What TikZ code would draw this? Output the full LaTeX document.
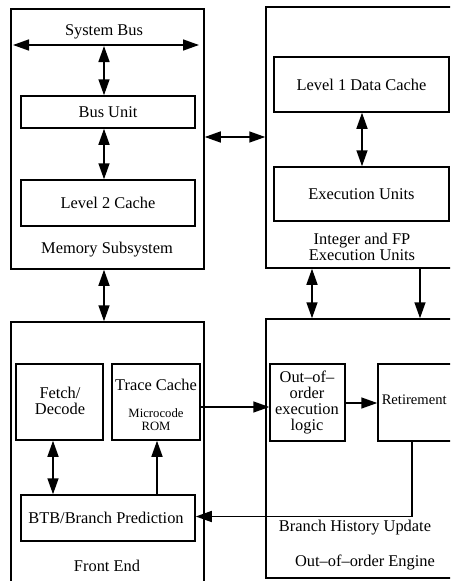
\documentclass[tikz,border=0pt]{standalone}
\usepackage{fontspec}
\setmainfont{Liberation Serif}
\usetikzlibrary{arrows.meta}
\begin{document}
\begin{tikzpicture}[x=1pt,y=-1pt,line width=1.5pt,
  >={Triangle[length=16pt,width=11pt]},
  box/.style={draw,rectangle,inner sep=0pt,line width=1.5pt},
  lbl/.style={inner sep=0pt,align=center,font=\fontsize{16.4}{16.5}\selectfont},
  small/.style={inner sep=0pt,align=center,font=\fontsize{12.7}{13.5}\selectfont},
  mid/.style={inner sep=0pt,align=left,font=\fontsize{14.6}{15}\selectfont}]
\useasboundingbox (0,0) rectangle (450,581);
\clip (0,0) rectangle (450,581);
% outer blocks
\node[box,minimum width=193pt,minimum height=260pt] (mem) at (107.5,139) {};
\node[box,minimum width=204pt,minimum height=261pt] (int) at (368,137.5) {};
\node[box,minimum width=193pt,minimum height=280pt] (fe) at (107.5,462) {};
\node[box,minimum width=204pt,minimum height=259pt] (ooo) at (368,448.5) {};
% memory subsystem
\node[lbl] (sysbus) at (104,32) {System Bus};
\coordinate (sbL) at (13,45);
\coordinate (sbR) at (199,45);
\coordinate (sbM) at (104,46);
\node[box,minimum width=174pt,minimum height=32pt] (bus) at (108,112) {};
\node[lbl] at (bus) {Bus Unit};
\node[box,minimum width=174pt,minimum height=46pt] (l2) at (108,203) {};
\node[lbl] at (l2) {Level 2 Cache};
\node[lbl] (memlbl) at (107,250) {Memory Subsystem};
% integer and FP
\node[box,minimum width=175pt,minimum height=55pt] (l1) at (361.5,84.5) {};
\node[lbl] at (l1) {Level 1 Data Cache};
\node[box,minimum width=175pt,minimum height=54pt] (eu) at (361.5,194) {};
\node[lbl] at (eu) {Execution Units};
\node[lbl] (intlbl) at (362,246.5) {Integer and FP\\[-0.5pt]Execution Units};
% front end
\node[box,minimum width=87pt,minimum height=76pt] (fd) at (59.5,402) {};
\node[lbl] at (60,401) {Fetch/\\[-1pt]Decode};
\node[box,minimum width=88pt,minimum height=76pt] (tc) at (156,402) {};
\node[lbl] (tclbl) at (156,385) {Trace Cache};
\node[small] (mrom) at (156,419.5) {Microcode\\ROM};
\node[box,minimum width=174pt,minimum height=46pt] (btb) at (108,518) {};
\node[lbl] at (106,518) {BTB/Branch Prediction};
\node[lbl] (felbl) at (107,566) {Front End};
% out-of-order engine
\node[box,minimum width=75pt,minimum height=77pt] (oel) at (307.5,402.5) {};
\node[lbl] at (307,402.5) {Out–of–\\[-0.5pt]order\\[-0.5pt]execution\\[-0.5pt]logic};
\node[box,minimum width=90pt,minimum height=77pt] (ret) at (423,402.5) {};
\node[mid,anchor=west] (retlbl) at (381,400) {Retirement};
\node[lbl] (bhu) at (355,528) {Branch History Update};
\node[lbl] (ooolbl) at (365,562) {Out–of–order Engine};
% connectors
\draw[<->] (sbL) -- (sbR);
\draw[<->] (sbM) -- (bus.north -| sbM);
\draw[<->] (bus.south -| sbM) -- (l2.north -| sbM);
\coordinate (h1) at (0,137);
\draw[<->] (mem.east |- h1) -- (int.west |- h1);
\draw[<->] (l1.south -| 362,0) -- (eu.north -| 362,0);
\coordinate (v1) at (104,0);
\draw[<->] (mem.south -| v1) -- (fe.north -| v1);
\coordinate (v2) at (312,0);
\draw[<->] (int.south -| v2) -- (ooo.north -| v2);
\coordinate (v3) at (420,0);
\draw[->] (int.south -| v3) -- (ooo.north -| v3);
\coordinate (v4) at (53,0);
\draw[<->] (fd.south -| v4) -- (btb.north -| v4);
\coordinate (v5) at (157,0);
\draw[->] (btb.north -| v5) -- (tc.south -| v5);
\coordinate (h2) at (0,407);
\draw[->] (tc.east |- h2) -- (oel.west |- h2);
\coordinate (h3) at (0,403);
\draw[->] (oel.east |- h3) -- (ret.west |- h3);
\coordinate (v6) at (412,0);
\coordinate (h4) at (0,516.5);
\draw[->] (ret.south -| v6) -- (v6 |- h4) -- (btb.east |- h4);
\end{tikzpicture}
\end{document}
